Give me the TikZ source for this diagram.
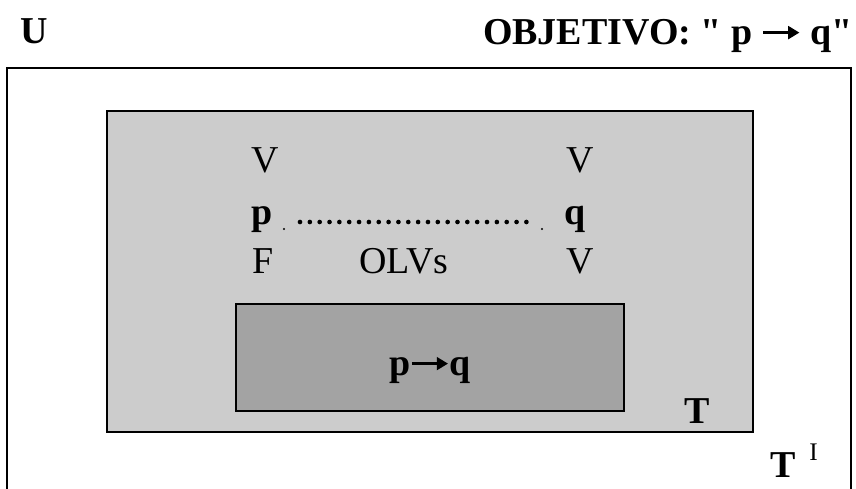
\documentclass[tikz,border=0pt]{standalone}
\usepackage{fontspec}
\setmainfont{Liberation Serif}
\usepackage{tikz}
\usetikzlibrary{positioning, arrows.meta}

\definecolor{outergray}{gray}{0.80}
\definecolor{innergray}{gray}{0.64}

% thick arrow with a solid head, used inside the labels
\newcommand{\imparrow}{\tikz[baseline=-0.3em]\draw[line width=2.2pt,
  -{Triangle[length=8pt,width=9pt]}] (0,0) -- (0.95em,0);}

\tikzset{
  lbl/.style={inner sep=0pt, font=\fontsize{27}{30}\selectfont},
  blbl/.style={lbl, font=\fontsize{27}{30}\selectfont\bfseries},
}

\begin{document}
\begin{tikzpicture}[x=0.025cm, y=-0.025cm]
\useasboundingbox (0,0) rectangle (856,488);
\clip (0,0) rectangle (856,488);
\coordinate (A) at (7,68);
\coordinate (B) at (851,500);
\coordinate (C) at (107,111);
\coordinate (D) at (753,432);
\coordinate (E) at (236,304);
\coordinate (F) at (624,411);
\draw[line width=1pt] (A) rectangle (B);
\draw[line width=1pt, fill=outergray] (C) rectangle (D);
\draw[line width=1pt, fill=innergray] (E) rectangle (F);
% titles
\node[blbl, anchor=base west] (U) at (20,43) {U};
\node[blbl, anchor=base east] (goal) at (853,44)
  {OBJETIVO: \textquotedbl\ p \imparrow\ q\textquotedbl};
% truth values
\node[lbl, anchor=base] (Vp) at (265,172) {V};
\node[lbl, anchor=base] (Vq) at (580,172) {V};
\node[blbl, anchor=base] (p) at (262,224) {p};
\node[blbl, anchor=base] (q) at (575,224) {q};
\node[lbl, anchor=base] (Fp) at (263,273) {F};
\node[lbl, anchor=base] (Fq) at (580,273) {V};
\node[lbl, anchor=base] (olv) at (404,273) {OLVs};
% dotted link
\coordinate (L) at (300,222);
\coordinate (R) at (528,222);
\draw[line width=3.3pt, line cap=round, dash pattern=on 0pt off 7pt] (L) -- (R);
\fill (284,229) circle (1.2);
\fill (542,229) circle (1.2);
% implication and theories
\node[blbl, anchor=base] (imp) at (430,375) {p\imparrow q};
\node[blbl, anchor=base] (T) at (697,423) {T};
\node[blbl, anchor=base west] (TI) at (770,477) {T};
\node[lbl, anchor=base west, font=\fontsize{18}{20}\selectfont] (I) at (809,460) {I};
\end{tikzpicture}
\end{document}
